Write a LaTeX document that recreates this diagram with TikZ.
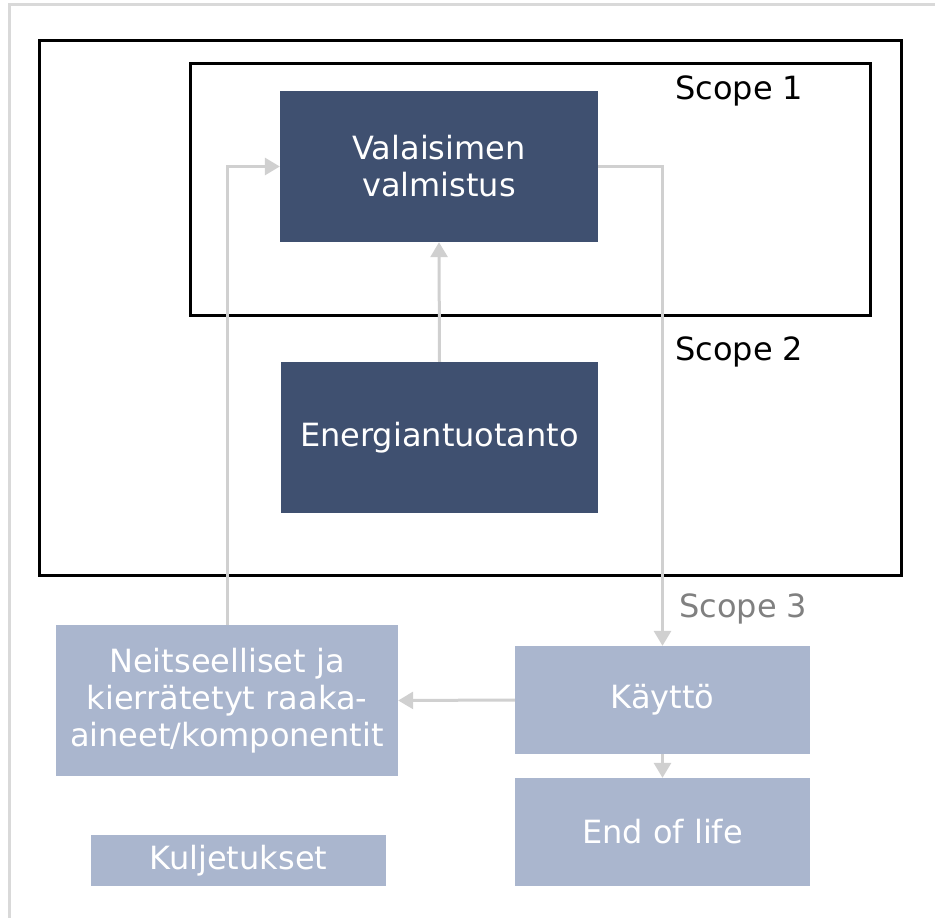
\documentclass[tikz,border=0pt]{standalone}
\usepackage{fontspec}
\setmainfont{DejaVu Sans}
\usetikzlibrary{arrows.meta}
\definecolor{darkbox}{HTML}{3F5070}
\definecolor{lightbox}{HTML}{AAB6CE}
\definecolor{conn}{HTML}{D0D0D0}
\definecolor{frameg}{HTML}{D9D9D9}
\definecolor{scopeg}{HTML}{808080}
\tikzset{
  box/.style={rectangle, inner sep=0pt, text=white, align=center,
    font=\fontsize{32}{37}\selectfont},
  dbox/.style={box, fill=darkbox},
  lbox/.style={box, fill=lightbox},
  frame/.style={draw=black, line width=3pt},
  conn/.style={draw=conn, line width=3pt, -{Triangle[length=15pt,width=17pt]}},
  scopelbl/.style={anchor=base west, inner sep=0pt, font=\fontsize{32}{37}\selectfont}
}
\begin{document}
\begin{tikzpicture}[x=1pt,y=-1pt]
\useasboundingbox (0,0) rectangle (935,918);
% outer gray border
\draw[frameg, line width=3pt] (9,918) -- (9,4) -- (935,4);
% scope frames
\draw[frame] (39,40) rectangle (901,575);
\draw[frame] (190,63) rectangle (870,315);
% boxes
\node[dbox, minimum width=318pt, minimum height=151pt] (val) at (439,166.5) {Valaisimen\\valmistus};
\node[dbox, minimum width=317pt, minimum height=151pt] (ene) at (439.5,437.5) {Energiantuotanto};
\node[lbox, minimum width=342pt, minimum height=151pt] (neit) at (227,700.5) {Neitseelliset ja\\kierrätetyt raaka-\\aineet/komponentit};
\node[lbox, minimum width=295pt, minimum height=108pt] (kay) at (662.5,700) {Käyttö};
\node[lbox, minimum width=295pt, minimum height=108pt] (eol) at (662.5,832) {End of life};
\node[lbox, minimum width=295pt, minimum height=51pt] (kul) at (238.5,860.5) {Kuljetukset};
% scope labels
\node[scopelbl] (s1) at (675,99) {Scope 1};
\node[scopelbl] (s2) at (675,360) {Scope 2};
\node[scopelbl, text=scopeg] (s3) at (679,617) {Scope 3};
% connectors
\draw[conn] (neit.north) |- (val.west);
\draw[conn] (ene.north) -- (val.south);
\draw[conn] (val.east) -| (kay.north);
\draw[conn] (kay.west) -- (neit.east);
\draw[conn] (kay.south) -- (eol.north);
\end{tikzpicture}
\end{document}
